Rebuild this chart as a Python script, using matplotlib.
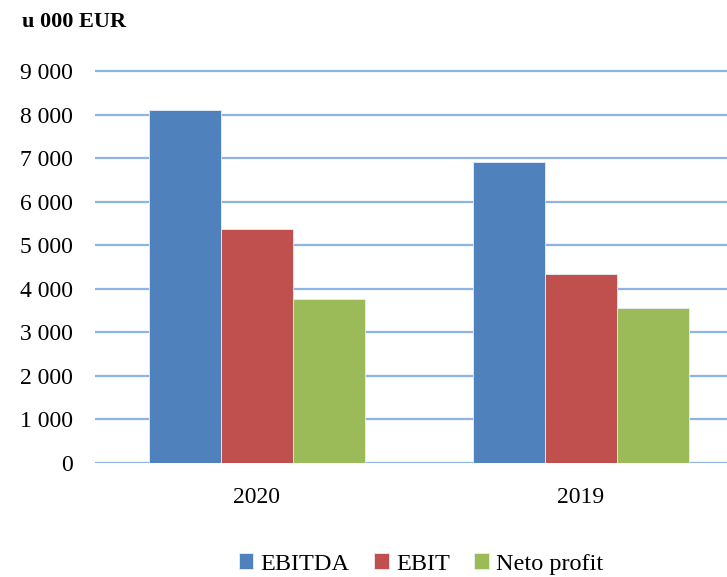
import matplotlib.pyplot as plt
import numpy as np

plt.rcParams['font.family'] = ['Liberation Serif', 'DejaVu Serif']

# data (u 000 EUR)
years = ['2020', '2019']
series = ['EBITDA', 'EBIT', 'Neto profit']
ebitda = [8100, 6910]
ebit = [5380, 4340]
neto = [3760, 3550]
colors = ['#4F81BD', '#C0504D', '#9BBB59']

fig = plt.figure(figsize=(7.27, 5.77), dpi=100)
# 1000 units ~ 43.56 px; leave a little headroom above 9 000 so the top grid line is not clipped
ax = fig.add_axes([95 / 727, 114 / 577, 648 / 727, 9.1 * 43.56 / 577])

x = np.arange(len(years))
w = 2 / 9
for i, (vals, name) in enumerate(zip([ebitda, ebit, neto], series)):
    ax.bar(x + (i - 1) * w, vals, width=w, color=colors[i], label=name,
           edgecolor='#E8EEF5', linewidth=0.6, zorder=3)

ax.set_xlim(-0.5, 1.5)
ax.set_ylim(0, 9100)
ax.set_yticks(np.arange(0, 9001, 1000))
ax.set_yticklabels([f"{v // 1000} 000" if v else "0" for v in range(0, 9001, 1000)])
ax.set_xticks(x)
ax.set_xticklabels(years)
ax.yaxis.grid(True, color='#8EB4E3', linewidth=1.6, zorder=0)
ax.set_axisbelow(True)
for s in ax.spines.values():
    s.set_visible(False)
ax.tick_params(axis='y', length=0, pad=16, labelsize=17)
ax.tick_params(axis='x', length=0, pad=17, labelsize=17)

fig.text(22 / 727, 1 - 22 / 577, 'u 000 EUR', fontsize=16, fontweight='bold',
         va='center', ha='left')

fig.legend(loc='center', bbox_to_anchor=(421 / 727, 13 / 577), ncol=3,
           frameon=False, fontsize=17.5, handlelength=0.6, handleheight=0.6,
           handletextpad=0.3, columnspacing=1.0)

fig.savefig('out.png', dpi=100)
